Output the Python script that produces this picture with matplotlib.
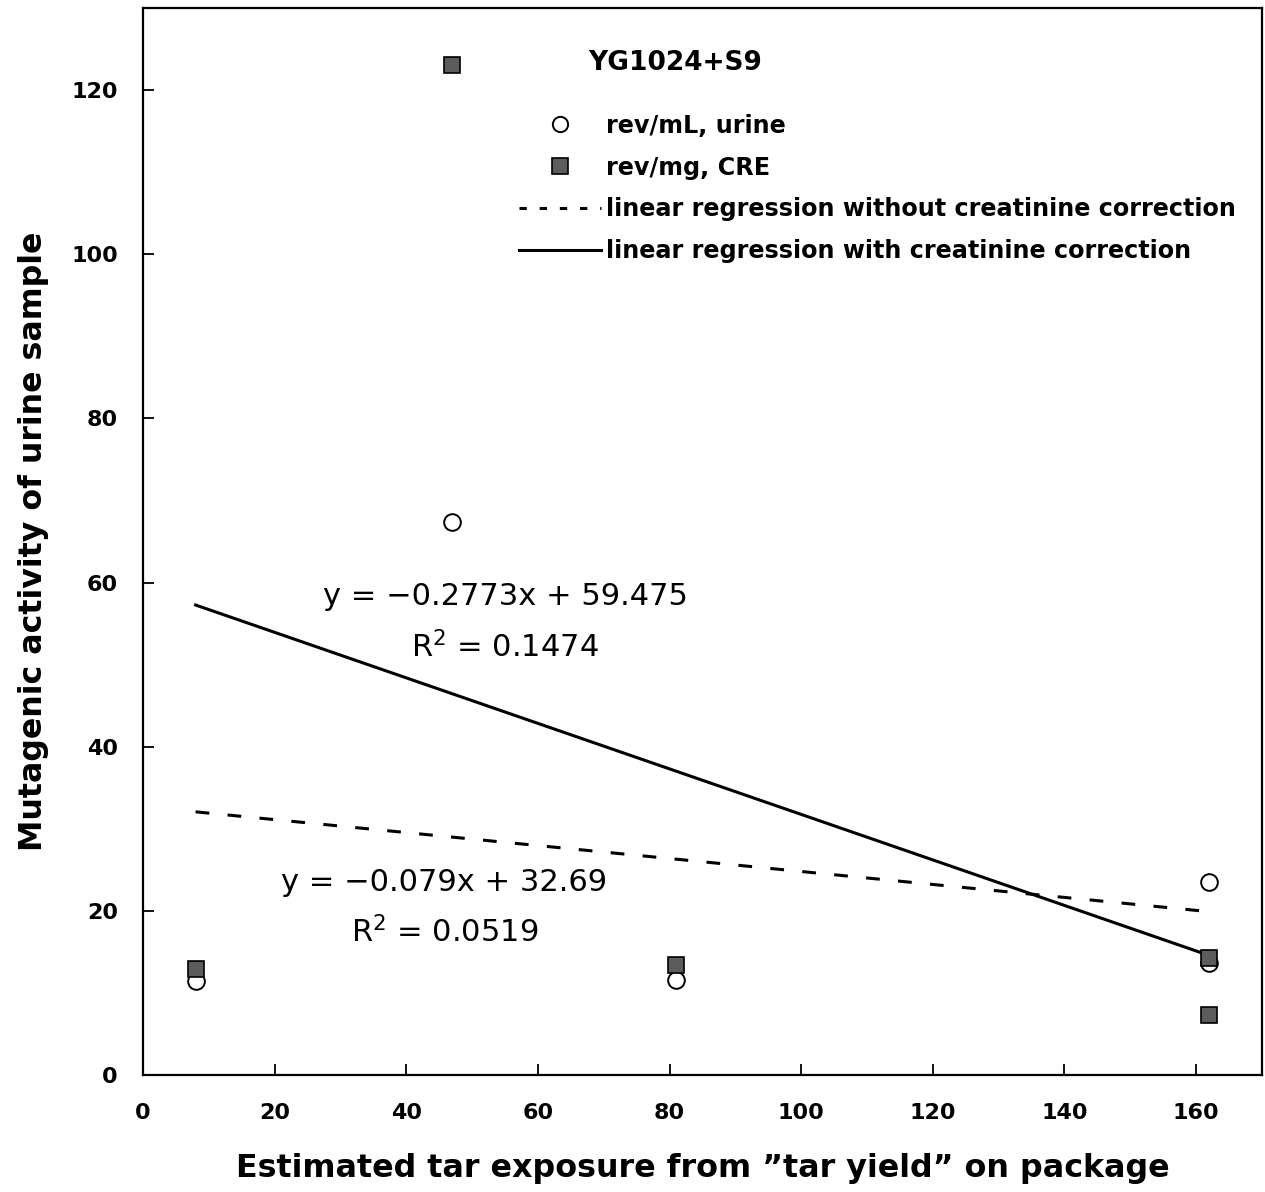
import matplotlib
matplotlib.use("Agg")
import matplotlib.pyplot as plt
from matplotlib.lines import Line2D
import numpy as np

# data
x_urine = [8, 47, 81, 162, 162]
y_urine = [11.4, 67.4, 11.6, 23.5, 13.7]
x_cre = [8, 47, 81, 162, 162]
y_cre = [12.9, 123.1, 13.4, 14.3, 7.3]

fit_x = [8, 162]
slope_urine, icpt_urine = -0.079, 32.69
slope_cre, icpt_cre = -0.2773, 59.475

eq_urine = ("y = \u22120.079x + 32.69", "R$^2$ = 0.0519")
eq_cre = ("y = \u22120.2773x + 59.475", "R$^2$ = 0.1474")

plt.rcParams["font.family"] = ["DejaVu Sans"]
plt.rcParams["mathtext.fontset"] = "dejavusans"

fig = plt.figure(figsize=(12.65, 11.92), dpi=100)
ax = fig.add_axes([0.113, 0.0982, 0.8846, 0.8951])

dash = (0, (4.5, 6))
fx = np.array(fit_x, dtype=float)
ax.plot(fx, slope_urine * fx + icpt_urine, color="k", lw=2.2, ls=dash, zorder=2)
ax.plot(fx, slope_cre * fx + icpt_cre, color="k", lw=2.2, zorder=2)

ax.plot(x_urine, y_urine, "o", ms=12, mfc="white", mec="k", mew=1.4, ls="none", zorder=3)
ax.plot(x_cre, y_cre, "s", ms=12, mfc="#5c5c5c", mec="k", mew=1.2, ls="none", zorder=4)

ax.text(55, 58.3, eq_cre[0], fontsize=22, ha="center", va="center")
ax.text(55, 52.1, eq_cre[1], fontsize=22, ha="center", va="center")
ax.text(45.8, 23.5, eq_urine[0], fontsize=22, ha="center", va="center")
ax.text(45.8, 17.4, eq_urine[1], fontsize=22, ha="center", va="center")

ax.set_xlim(0, 170)
ax.set_ylim(0, 130)
ax.set_xticks(range(0, 161, 20))
ax.set_yticks(range(0, 121, 20))
ax.tick_params(direction="in", length=8, width=1.3, labelsize=16, pad=20)
ax.tick_params(axis="y", pad=18)
for lb in ax.get_xticklabels() + ax.get_yticklabels():
    lb.set_fontweight("bold")
for s in ax.spines.values():
    s.set_linewidth(1.6)

ax.set_xlabel("Estimated tar exposure from \u201dtar yield\u201d on package",
              fontsize=22.9, fontweight="bold", labelpad=22)
ax.set_ylabel("Mutagenic activity of urine sample", fontsize=22.8, fontweight="bold", labelpad=16)

# legend
ax.text(0.398, 0.948, "YG1024+S9", transform=ax.transAxes, fontsize=19, fontweight="bold",
        ha="left", va="center")
handles = [
    Line2D([], [], marker="o", ls="none", ms=11, mfc="white", mec="k", mew=1.4),
    Line2D([], [], marker="s", ls="none", ms=11, mfc="#5c5c5c", mec="k", mew=1.2),
    Line2D([], [], color="k", lw=2.2, ls=(0, (2.4, 4.2))),
    Line2D([], [], color="k", lw=2.2),
]
labels = ["rev/mL, urine", "rev/mg, CRE",
          "linear regression without creatinine correction",
          "linear regression with creatinine correction"]
leg = ax.legend(handles, labels, loc="upper left", bbox_to_anchor=(0.336, 0.901),
                frameon=False, fontsize=17.2, handlelength=3.45, handletextpad=0.2,
                labelspacing=0.75, borderpad=0, borderaxespad=0)
for t in leg.get_texts():
    t.set_fontweight("bold")

fig.savefig("out.png", dpi=100)
